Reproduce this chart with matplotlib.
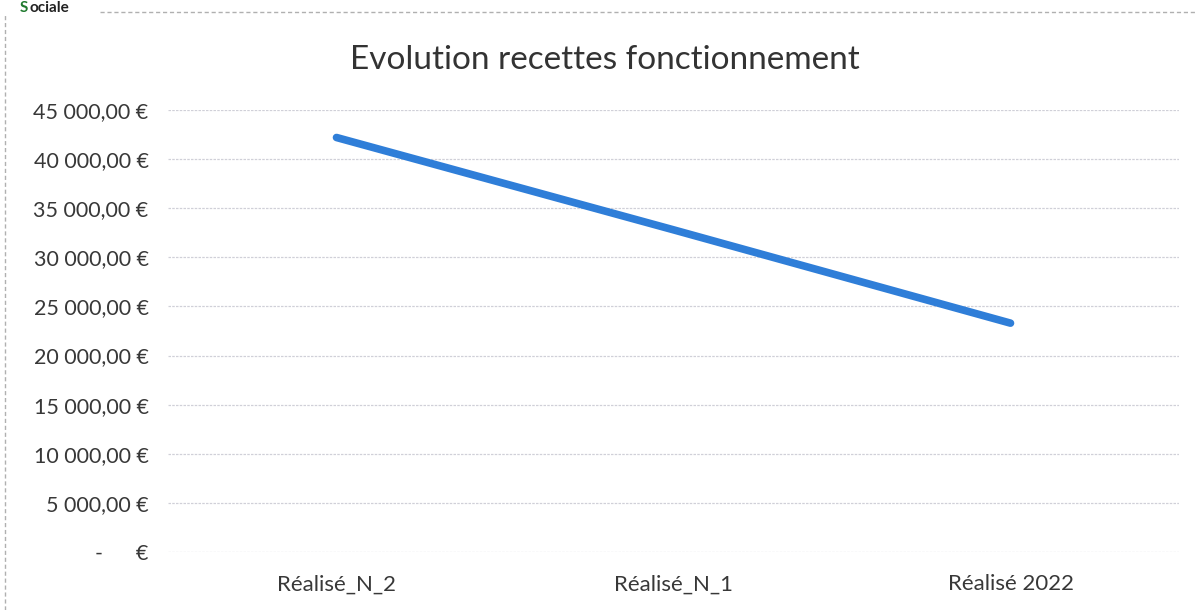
import matplotlib.pyplot as plt
from matplotlib.lines import Line2D

categories = ['Réalisé_N_2', 'Réalisé_N_1', 'Réalisé 2022']
recettes = [42200, 32800, 23300]
y_ticks = [0, 5000, 10000, 15000, 20000, 25000, 30000, 35000, 40000, 45000]


def euro(v):
    if v == 0:
        return '-      €'
    s = '{:,.2f}'.format(v).replace(',', ' ').replace('.', ',')
    return s + ' €'


plt.rcParams['font.family'] = ['Lato', 'DejaVu Sans']

fig = plt.figure(figsize=(11.95, 6.10), dpi=100)
ax = fig.add_axes([168 / 1195, 58 / 610, (1179 - 168) / 1195, 442 / 610])

x = range(len(categories))
ax.plot(x, recettes, color='#2f7ed8', linewidth=5.5, solid_capstyle='round')

ax.set_xlim(-0.5, 2.5)
ax.set_ylim(0, 45000)
ax.set_yticks(y_ticks)
ax.set_yticklabels([euro(v) for v in y_ticks], fontsize=15.5, color='#383838')
ax.set_xticks(list(x))
ax.set_xticklabels(categories, fontsize=16, color='#383838')
ax.tick_params(axis='both', length=0)
ax.tick_params(axis='y', pad=14)
ax.tick_params(axis='x', pad=16)
ax.grid(axis='y', color='#d0d0d8', linewidth=0.9, linestyle=(0, (2, 1)))
ax.set_axisbelow(True)
for sp in ax.spines.values():
    sp.set_visible(False)

fig.text(605 / 1195, 1 - 60 / 610, 'Evolution recettes fonctionnement',
         ha='center', va='center', fontsize=24, color='#333333')

# bordure du cadre scanné
fig.add_artist(Line2D([100 / 1195, 1], [1 - 12 / 610, 1 - 12 / 610],
                      color='#b0b0b0', linewidth=1, linestyle=(0, (3, 2))))
fig.add_artist(Line2D([5 / 1195, 5 / 1195], [0, 1 - 14 / 610],
                      color='#b0b0b0', linewidth=1, linestyle=(0, (3, 2))))
fig.text(20 / 1195, 1 - 8 / 610, 'S', ha='left', va='center',
         fontsize=11, fontweight='bold', color='#1f7a2e')
fig.text(29 / 1195, 1 - 8 / 610, 'ociale', ha='left', va='center',
         fontsize=11, fontweight='bold', color='#222222')

fig.savefig('out.png', dpi=100)
